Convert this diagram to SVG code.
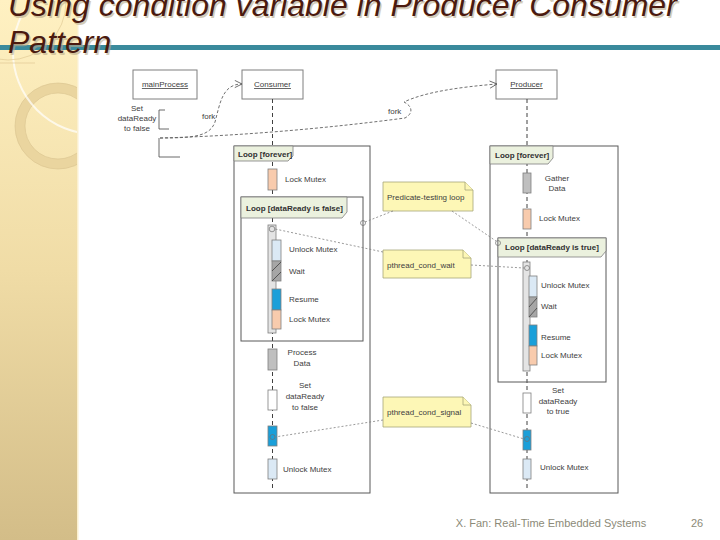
<svg xmlns="http://www.w3.org/2000/svg" width="720" height="540" viewBox="0 0 720 540">
<defs>
<linearGradient id="strip" x1="0" y1="0" x2="0" y2="1">
<stop offset="0" stop-color="#fff1c2"/>
<stop offset="0.5" stop-color="#f0dca6"/>
<stop offset="1" stop-color="#d3bd88"/>
</linearGradient>
<marker id="open" viewBox="0 0 10 10" refX="9" refY="5" markerWidth="9" markerHeight="9" orient="auto" markerUnits="userSpaceOnUse">
<path d="M1,1 L9,5 L1,9" fill="none" stroke="#606060" stroke-width="1"/>
</marker>
<clipPath id="stripclip"><rect x="0" y="0" width="78" height="540"/></clipPath>
</defs>
<style>
.t{font-family:"Liberation Sans",Arial,sans-serif;font-size:8px;fill:#404040}
.b{font-family:"Liberation Sans",Arial,sans-serif;font-size:8px;font-weight:bold;fill:#303030}
.u{text-decoration:underline}
.box{fill:#ffffff;stroke:#7f7f7f;stroke-width:1}
.frame{fill:none;stroke:#595959;stroke-width:1}
.lab{fill:#ebf1de;stroke:#7f7f7f;stroke-width:0.8}
.life{stroke:#404040;stroke-width:1;stroke-dasharray:4 3;fill:none}
.act{stroke:#7f7f7f;stroke-width:0.8}
.pe{fill:#f8cbad}
.lb{fill:#dbe9f5}
.bl{fill:#1a9fd9}
.gr{fill:#bfbfbf}
.wt{fill:#ffffff}
.bar{fill:#e4e4e4}
.note{fill:#fdf7b6;stroke:#a6a67a;stroke-width:0.8}
.dot{stroke:#808080;stroke-width:0.8;stroke-dasharray:2 2;fill:none}
.fork{stroke:#606060;stroke-width:0.9;stroke-dasharray:3 2;fill:none}
.circ{fill:none;stroke:#707070;stroke-width:0.7}
.br{stroke:#595959;stroke-width:0.9;fill:none}
</style>
<rect x="0" y="0" width="720" height="540" fill="#ffffff"/>
<g id="background">
<rect x="0" y="0" width="78" height="540" fill="url(#strip)"/>
<g clip-path="url(#stripclip)">
<circle cx="58" cy="126" r="38" fill="none" stroke="#ead59f" stroke-width="10"/>
<circle cx="58" cy="126" r="43" fill="none" stroke="#d9c28e" stroke-width="0.6"/>
<circle cx="58" cy="126" r="33" fill="none" stroke="#d9c28e" stroke-width="0.6"/>
<circle cx="95" cy="52" r="82" fill="none" stroke="#ffffff" stroke-width="2" opacity="0.7"/>
<circle cx="8" cy="2" r="58" fill="none" stroke="#dcc48e" stroke-width="0.6"/>
<line x1="0" y1="63" x2="35" y2="63" stroke="#dcc48e" stroke-width="0.6"/>
</g>
<rect x="77" y="0" width="1.5" height="540" fill="#fbf0cf"/>
<rect x="0" y="45" width="720" height="5" fill="#3a8a9c"/>
</g>
<g id="title" font-family="'Liberation Sans',Arial,sans-serif" font-size="32" font-style="italic">
<text x="9.5" y="17.5" fill="#b9ab8a" opacity="0.6">Using condition variable in Producer Consumer</text>
<text x="9.5" y="54.5" fill="#b9ab8a" opacity="0.6">Pattern</text>
<text x="8" y="16" fill="#4b1a0f">Using condition variable in Producer Consumer</text>
<text x="8" y="53" fill="#4b1a0f">Pattern</text>
</g>
<g id="consumer-head">
<rect class="box" x="242" y="70" width="61" height="29"/>
<text class="t u" x="272.5" y="87" text-anchor="middle" font-size="8.5">Consumer</text>
<line class="life" x1="272.5" y1="99" x2="272.5" y2="491"/>
</g>
<g id="producer-head">
<rect class="box" x="496" y="70" width="61" height="29"/>
<text class="t u" x="526.5" y="87" text-anchor="middle" font-size="8.5">Producer</text>
<line class="life" x1="527" y1="99" x2="527" y2="491"/>
</g>
<g id="frames">
<rect class="frame" x="234" y="146" width="136" height="347"/>
<path class="lab" d="M234,146 H293 V156 L288,161 H234 Z"/>
<text class="b" x="238" y="157">Loop [forever]</text>
<rect class="frame" x="241" y="197" width="122" height="144"/>
<path class="lab" d="M241,197 H347 V212 L342,218 H241 Z"/>
<text class="b" x="246" y="211">Loop [dataReady is false]</text>
<rect class="frame" x="490" y="146" width="128" height="347"/>
<path class="lab" d="M490,146 H553 V158 L548,164 H490 Z"/>
<text class="b" x="495" y="158">Loop [forever]</text>
<rect class="frame" x="498" y="238" width="108" height="144"/>
<path class="lab" d="M498,238 H606 V251 L601,257 H498 Z"/>
<text class="b" x="505" y="250">Loop [dataReady is true]</text>
</g>
<g id="mainProcess">
<rect class="box" x="133" y="70" width="64" height="29"/>
<text class="t u" x="165" y="87" text-anchor="middle" font-size="8.5">mainProcess</text>
<text class="t" x="137" y="111" text-anchor="middle">Set</text>
<text class="t" x="137" y="121" text-anchor="middle">dataReady</text>
<text class="t" x="137" y="131" text-anchor="middle">to false</text>
<path class="br" d="M165,110 H159 V129 H169"/>
<path class="br" d="M159,138 V157 H180"/>
</g>
<g id="consumer">
<rect class="act pe" x="268" y="169" width="9" height="21"/>
<text class="t" x="285" y="182">Lock Mutex</text>
<rect class="act bar" x="268" y="225" width="8" height="108"/>
<circle class="circ" cx="272" cy="229" r="2.8"/>
<rect class="act lb" x="272" y="240" width="9" height="21"/>
<rect class="act" x="272" y="261" width="9" height="20" fill="#a6a6a6"/>
<path d="M272,271 L281,262 M272,281 L281,272" stroke="#404040" stroke-width="0.8"/>
<rect class="act bl" x="272" y="289" width="9" height="21"/>
<rect class="act pe" x="272" y="310" width="9" height="19"/>
<text class="t" x="289" y="252">Unlock Mutex</text>
<text class="t" x="289" y="274">Wait</text>
<text class="t" x="289" y="302">Resume</text>
<text class="t" x="289" y="322">Lock Mutex</text>
<rect class="act gr" x="268" y="349" width="9" height="21"/>
<text class="t" x="302" y="355" text-anchor="middle">Process</text>
<text class="t" x="302" y="366" text-anchor="middle">Data</text>
<rect class="act wt" x="268" y="390" width="9" height="20"/>
<text class="t" x="305" y="388" text-anchor="middle">Set</text>
<text class="t" x="305" y="399" text-anchor="middle">dataReady</text>
<text class="t" x="305" y="410" text-anchor="middle">to false</text>
<rect class="act bl" x="268" y="426" width="9" height="20"/>
<circle class="circ" cx="272.5" cy="437" r="2.5"/>
<rect class="act lb" x="268" y="459" width="9" height="20"/>
<text class="t" x="283" y="472">Unlock Mutex</text>
</g>
<g id="producer">
<rect class="act gr" x="523" y="173" width="8" height="20"/>
<text class="t" x="557" y="181" text-anchor="middle">Gather</text>
<text class="t" x="557" y="191" text-anchor="middle">Data</text>
<rect class="act pe" x="523" y="209" width="8" height="20"/>
<text class="t" x="539" y="221">Lock Mutex</text>
<rect class="act bar" x="523" y="262" width="7" height="109"/>
<circle class="circ" cx="527" cy="268" r="2.5"/>
<rect class="act lb" x="529" y="276" width="8" height="21"/>
<rect class="act" x="529" y="297" width="8" height="20" fill="#a6a6a6"/>
<path d="M529,307 L537,298 M529,317 L537,308" stroke="#404040" stroke-width="0.8"/>
<rect class="act bl" x="529" y="325" width="8" height="21"/>
<rect class="act pe" x="529" y="346" width="8" height="19"/>
<text class="t" x="541" y="288">Unlock Mutex</text>
<text class="t" x="541" y="309">Wait</text>
<text class="t" x="541" y="340">Resume</text>
<text class="t" x="541" y="358">Lock Mutex</text>
<rect class="act wt" x="523" y="393" width="8" height="20"/>
<text class="t" x="558" y="393" text-anchor="middle">Set</text>
<text class="t" x="558" y="404" text-anchor="middle">dataReady</text>
<text class="t" x="558" y="414" text-anchor="middle">to true</text>
<rect class="act bl" x="523" y="430" width="8" height="20"/>
<circle class="circ" cx="527" cy="439" r="2.5"/>
<rect class="act lb" x="523" y="459" width="8" height="20"/>
<text class="t" x="540" y="470">Unlock Mutex</text>
</g>
<g id="note-predicate">
<path class="note" d="M383,182 H465 L473,190 V211 H383 Z"/>
<path class="note" d="M465,182 V190 H473" fill="none"/>
<text class="t" x="387" y="200">Predicate-testing loop</text>
</g>
<g id="note-wait">
<path class="note" d="M383,250 H463 L471,258 V278 H383 Z"/>
<path class="note" d="M463,250 V258 H471" fill="none"/>
<text class="t" x="387" y="268">pthread_cond_wait</text>
</g>
<g id="note-signal">
<path class="note" d="M383,397 H463 L471,405 V427 H383 Z"/>
<path class="note" d="M463,397 V405 H471" fill="none"/>
<text class="t" x="387" y="415">pthread_cond_signal</text>
</g>
<g id="connectors">
<path class="fork" d="M160,138 C195,138 210,136 215,122 C220,104 222,84 242,84" marker-end="url(#open)"/>
<path class="fork" d="M160,138 C240,136 330,128 405,118 C414,113 412,106 404,102 C425,92 460,87 497,84" marker-end="url(#open)"/>
<text class="t" x="202" y="119">fork</text>
<text class="t" x="388" y="114">fork</text>
<line class="dot" x1="393" y1="211" x2="365" y2="222"/>
<circle class="circ" cx="363" cy="223" r="2.5"/>
<line class="dot" x1="452" y1="211" x2="496" y2="241"/>
<circle class="circ" cx="498" cy="243" r="2.5"/>
<line class="dot" x1="383" y1="252" x2="275" y2="229"/>
<line class="dot" x1="471" y1="265" x2="524" y2="268"/>
<line class="dot" x1="383" y1="420" x2="275" y2="437"/>
<line class="dot" x1="471" y1="423" x2="524" y2="439"/>
</g>
<g id="footer" font-family="'Liberation Sans',Arial,sans-serif" font-size="11" fill="#8c8a78">
<text x="551" y="527" text-anchor="middle">X. Fan: Real-Time Embedded Systems</text>
<text x="697" y="527" text-anchor="middle">26</text>
</g>
</svg>
